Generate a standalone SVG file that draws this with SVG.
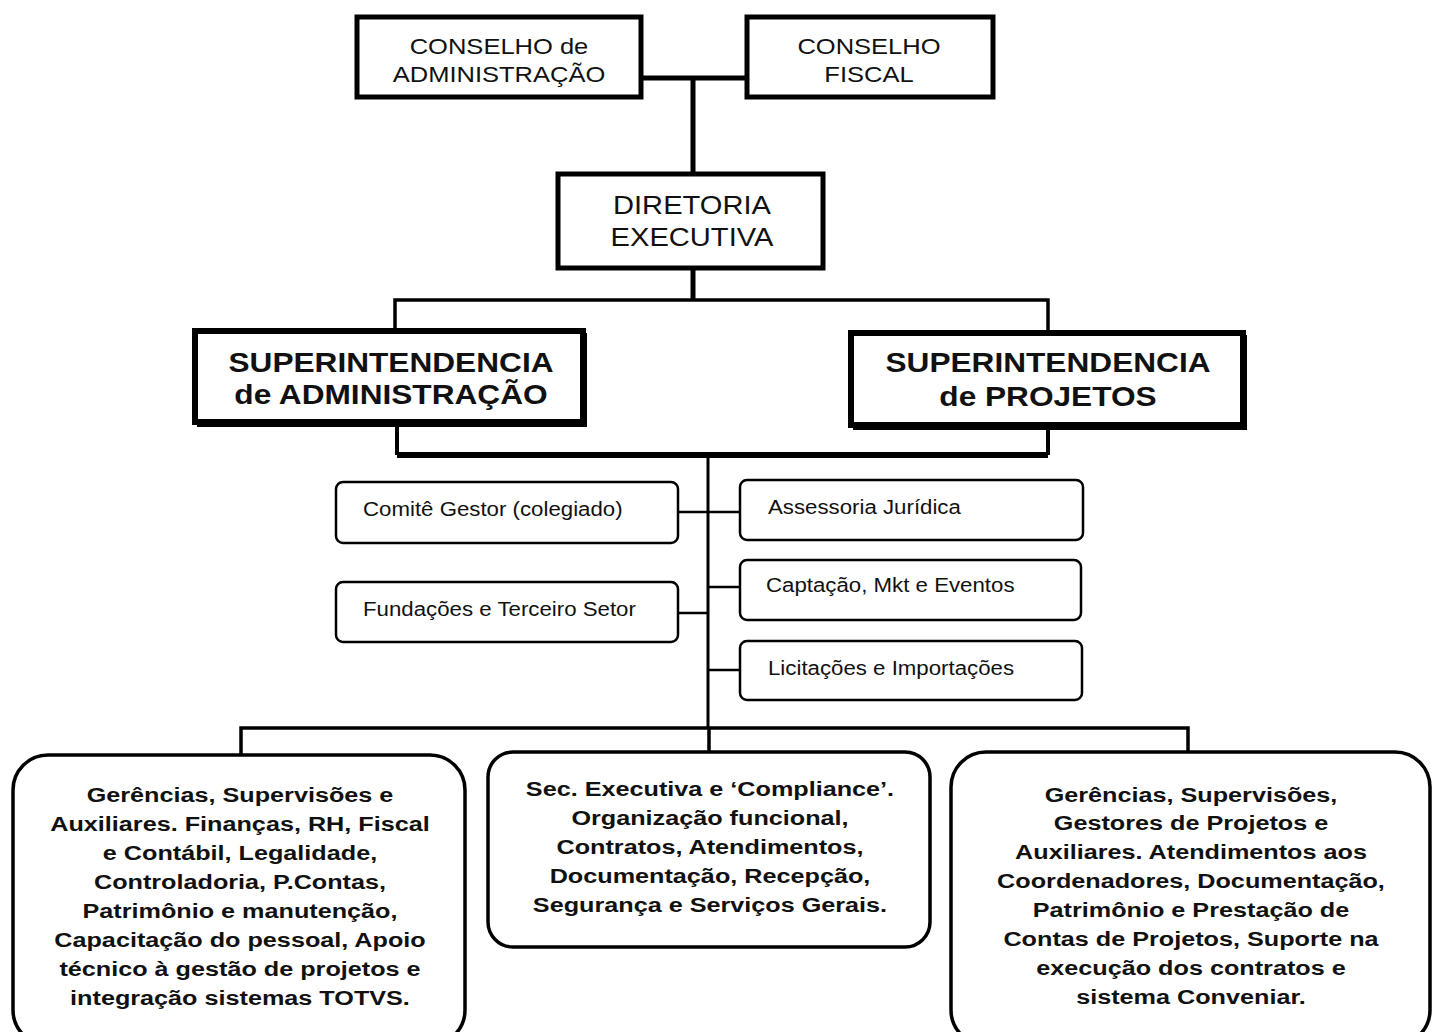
<svg xmlns="http://www.w3.org/2000/svg" width="1439" height="1032" viewBox="0 0 1439 1032">
<style>
text{font-family:"Liberation Sans",Arial,sans-serif;fill:#111}
.top{font-size:22px;text-anchor:middle}
.dir{font-size:26px;text-anchor:middle}
.sup{font-size:28px;font-weight:bold;text-anchor:middle}
.sm{font-size:21px}
.bt{font-size:21px;font-weight:bold;text-anchor:middle}
.box{fill:#fff;stroke:#000}
.ln{fill:none;stroke:#000}
</style>
<rect width="1439" height="1032" fill="#fff"/>
<g id="connectors">
<path class="ln" stroke-width="5" d="M643 78H745M693 78V172"/>
<path class="ln" stroke-width="5" d="M693 270V300"/>
<path class="ln" stroke-width="3.5" d="M395 328V300H1048V330"/>
<path class="ln" stroke-width="4" d="M397 425V455M1048 428V455"/>
<path class="ln" stroke-width="6" d="M397 455H1048"/>
<path class="ln" stroke-width="3" d="M708 455V728"/>
<path class="ln" stroke-width="2.5" d="M678 512H740M678 613H708M708 587H740M708 670H740"/>
<path class="ln" stroke-width="3.5" d="M241 755V728H1188V752M709 728V752"/>
</g>
<g id="conselho-admin">
<rect class="box" x="357" y="17" width="284" height="80" stroke-width="5"/>
<g transform="matrix(1.16,0,0,1,-79.84,0)">
<text class="top" x="499" y="54">CONSELHO de</text>
<text class="top" x="499" y="82">ADMINISTRAÇÃO</text>
</g>
</g>
<g id="conselho-fiscal">
<rect class="box" x="747" y="17" width="246" height="80" stroke-width="5"/>
<g transform="matrix(1.16,0,0,1,-139.04,0)">
<text class="top" x="869" y="54">CONSELHO</text>
<text class="top" x="869" y="82">FISCAL</text>
</g>
</g>
<g id="diretoria">
<rect class="box" x="558" y="174" width="265" height="94" stroke-width="5"/>
<g transform="matrix(1.12,0,0,1,-83.04,0)">
<text class="dir" x="692" y="214">DIRETORIA</text>
<text class="dir" x="692" y="246">EXECUTIVA</text>
</g>
</g>
<g id="sup-admin">
<rect class="box" x="195" y="331" width="388" height="91" stroke-width="6"/>
<path class="ln" stroke-width="2" d="M197 426H586V333"/>
<g transform="matrix(1.13,0,0,1,-50.83,0)">
<text class="sup" x="391" y="372">SUPERINTENDENCIA</text>
<text class="sup" x="391" y="404">de ADMINISTRAÇÃO</text>
</g>
</g>
<g id="sup-projetos">
<rect class="box" x="851" y="333" width="392" height="92" stroke-width="6"/>
<path class="ln" stroke-width="2" d="M853 429H1246V335"/>
<g transform="matrix(1.13,0,0,1,-136.24,0)">
<text class="sup" x="1048" y="372">SUPERINTENDENCIA</text>
<text class="sup" x="1048" y="406">de PROJETOS</text>
</g>
</g>
<g id="comite">
<rect class="box" x="336" y="482" width="342" height="61" rx="7" stroke-width="2.5"/>
<text class="sm" x="363" y="516" transform="matrix(1.06,0,0,1,-21.78,0)">Comitê Gestor (colegiado)</text>
</g>
<g id="assessoria">
<rect class="box" x="740" y="480" width="343" height="60" rx="7" stroke-width="2.5"/>
<text class="sm" x="768" y="514" transform="matrix(1.06,0,0,1,-46.08,0)">Assessoria Jurídica</text>
</g>
<g id="captacao">
<rect class="box" x="740" y="560" width="341" height="60" rx="7" stroke-width="2.5"/>
<text class="sm" x="766" y="592" transform="matrix(1.06,0,0,1,-45.96,0)">Captação, Mkt e Eventos</text>
</g>
<g id="fundacoes">
<rect class="box" x="336" y="582" width="342" height="60" rx="7" stroke-width="2.5"/>
<text class="sm" x="363" y="616" transform="matrix(1.06,0,0,1,-21.78,0)">Fundações e Terceiro Setor</text>
</g>
<g id="licitacoes">
<rect class="box" x="740" y="641" width="342" height="59" rx="7" stroke-width="2.5"/>
<text class="sm" x="768" y="675" transform="matrix(1.06,0,0,1,-46.08,0)">Licitações e Importações</text>
</g>
<g id="ger-admin">
<rect class="box" x="13" y="755" width="452" height="290" rx="35" stroke-width="3.5"/>
<g transform="matrix(1.2,0,0,1,-48,0)">
<text class="bt" x="240" y="802">Gerências, Supervisões e</text>
<text class="bt" x="240" y="831">Auxiliares. Finanças, RH, Fiscal</text>
<text class="bt" x="240" y="860">e Contábil, Legalidade,</text>
<text class="bt" x="240" y="889">Controladoria, P.Contas,</text>
<text class="bt" x="240" y="918">Patrimônio e manutenção,</text>
<text class="bt" x="240" y="947">Capacitação do pessoal, Apoio</text>
<text class="bt" x="240" y="976">técnico à gestão de projetos e</text>
<text class="bt" x="240" y="1005">integração sistemas TOTVS.</text>
</g>
</g>
<g id="sec-exec">
<rect class="box" x="488" y="752" width="442" height="195" rx="25" stroke-width="3.5"/>
<g transform="matrix(1.2,0,0,1,-142,0)">
<text class="bt" x="710" y="796">Sec. Executiva e ‘Compliance’.</text>
<text class="bt" x="710" y="825">Organização funcional,</text>
<text class="bt" x="710" y="854">Contratos, Atendimentos,</text>
<text class="bt" x="710" y="883">Documentação, Recepção,</text>
<text class="bt" x="710" y="912">Segurança e Serviços Gerais.</text>
</g>
</g>
<g id="ger-projetos">
<rect class="box" x="951" y="752" width="479" height="293" rx="35" stroke-width="3.5"/>
<g transform="matrix(1.2,0,0,1,-238.2,0)">
<text class="bt" x="1191" y="802">Gerências, Supervisões,</text>
<text class="bt" x="1191" y="830">Gestores de Projetos e</text>
<text class="bt" x="1191" y="859">Auxiliares. Atendimentos aos</text>
<text class="bt" x="1191" y="888">Coordenadores, Documentação,</text>
<text class="bt" x="1191" y="917">Patrimônio e Prestação de</text>
<text class="bt" x="1191" y="946">Contas de Projetos, Suporte na</text>
<text class="bt" x="1191" y="975">execução dos contratos e</text>
<text class="bt" x="1191" y="1004">sistema Conveniar.</text>
</g>
</g>
</svg>
